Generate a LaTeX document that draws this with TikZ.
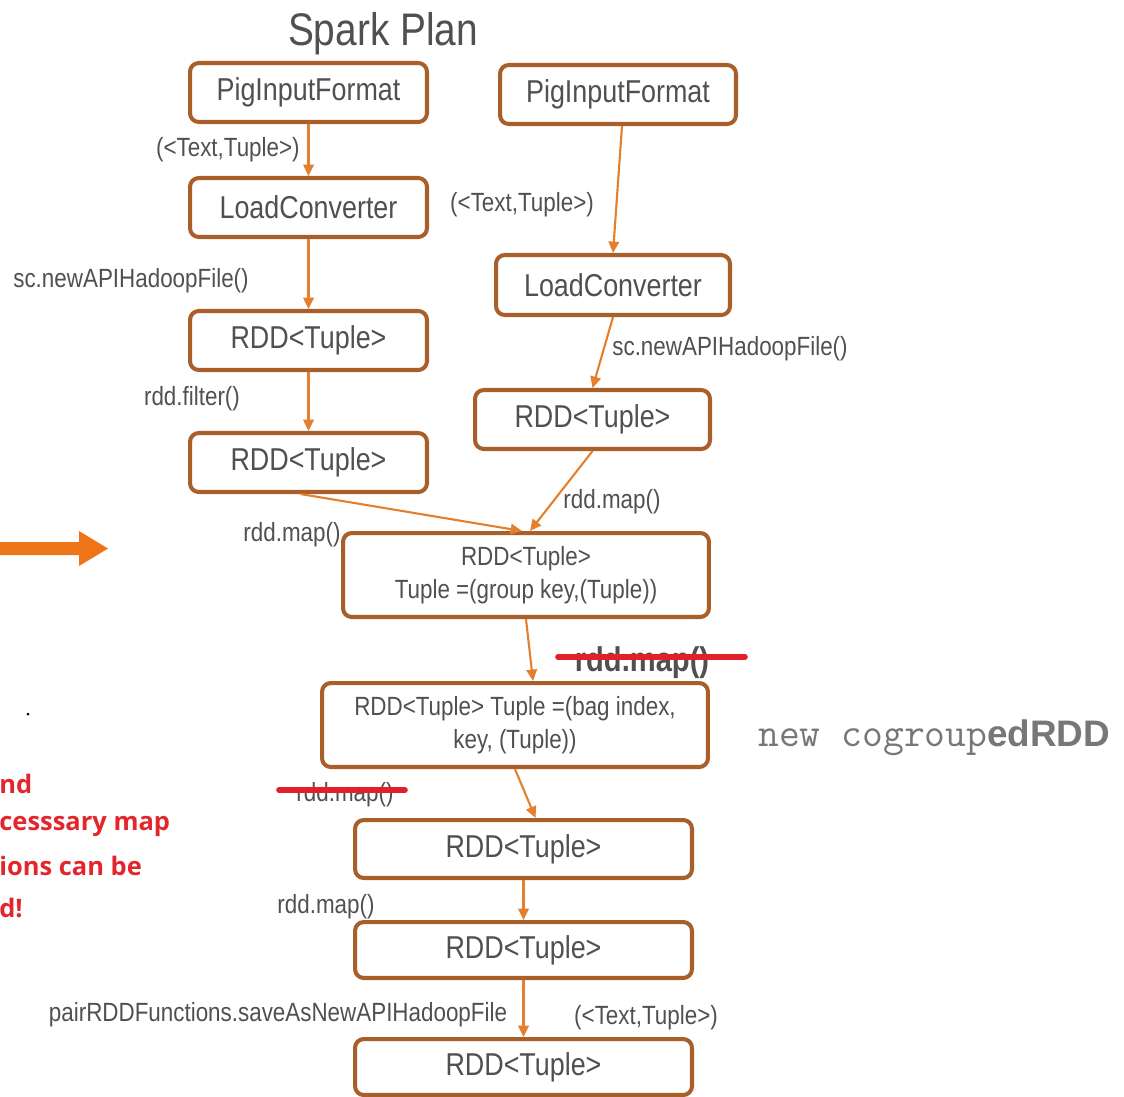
\documentclass[tikz,border=0pt]{standalone}
\usepackage{fontspec}
\setmainfont{Liberation Sans}[FakeStretch=0.85]
\newfontfamily\plainsans{Liberation Sans}
\newfontfamily\codefont{Latin Modern Mono}
\newfontfamily\notefont{Open Sans}
\usetikzlibrary{arrows.meta,calc}
\definecolor{boxc}{HTML}{A95F2A}
\definecolor{arrc}{HTML}{E47F2C}
\definecolor{txt}{HTML}{505050}
\definecolor{codec}{HTML}{777777}
\definecolor{strikec}{HTML}{E2202B}
\definecolor{notec}{HTML}{E3262C}
\definecolor{bigarrow}{HTML}{EE7418}
\begin{document}
\begin{tikzpicture}[x=0.02cm,y=-0.02cm,
  stage/.style={draw=boxc, line width=2.3pt, rounded corners=5pt, fill=white,
    text=txt, font=\fontsize{18}{20}\selectfont, inner sep=0pt},
  widestage/.style={stage, font=\fontsize{15}{19}\selectfont, align=center},
  flow/.style={draw=arrc, line width=1.2pt, -{Triangle[length=6.5pt,width=6pt]}},
  lbl/.style={text=txt, font=\fontsize{15}{18}\selectfont, inner sep=0pt},
  strikeout/.style={draw=strikec, line width=3.2pt, line cap=round},
  note/.style={text=notec, font=\notefont\bfseries\fontsize{14.5}{16}\selectfont,
    inner sep=0pt, anchor=west},
]
\useasboundingbox (0,0) rectangle (1124,1096);

% title
\node[text=txt, font=\fontsize{26}{28}\selectfont, inner sep=0pt] (title) at (383,34) {Spark Plan};

% left load branch
\node[stage, minimum width=4.74cm, minimum height=1.18cm] (pifL) at (308.5,92.5) {PigInputFormat};
\node[stage, minimum width=4.74cm, minimum height=1.18cm] (lcL) at (308.5,207.5) {LoadConverter};
\node[stage, minimum width=4.74cm, minimum height=1.18cm] (rddL1) at (308.5,340.5) {RDD<Tuple>};
\node[stage, minimum width=4.74cm, minimum height=1.18cm] (rddL2) at (308.5,462.5) {RDD<Tuple>};

% right load branch
\node[stage, minimum width=4.72cm, minimum height=1.18cm] (pifR) at (618,94.5) {PigInputFormat};
\node[stage, minimum width=4.68cm, minimum height=1.2cm] (lcR) at (613,285) {LoadConverter};
\node[stage, minimum width=4.7cm, minimum height=1.18cm] (rddR) at (592.5,419.5) {RDD<Tuple>};

% merged part
\node[widestage, minimum width=7.32cm, minimum height=1.68cm] (grp) at (526,575)
  {RDD<Tuple>\\Tuple =(group key,(Tuple))};
\node[widestage, minimum width=7.72cm, minimum height=1.68cm] (bag) at (515,725)
  {RDD<Tuple> Tuple =(bag index,\\key, (Tuple))};
\node[stage, minimum width=6.74cm, minimum height=1.16cm] (rddA) at (523.5,849) {RDD<Tuple>};
\node[stage, minimum width=6.74cm, minimum height=1.12cm] (rddB) at (523.5,950) {RDD<Tuple>};
\node[stage, minimum width=6.74cm, minimum height=1.12cm] (rddC) at (523.5,1067) {RDD<Tuple>};

% connectors
\draw[flow] (pifL) -- (lcL);
\draw[flow] (lcL) -- (rddL1);
\draw[flow] (rddL1) -- (rddL2);
\draw[flow] ($(pifR.south)+(4,0)$) -- (lcR.north);
\draw[flow] (lcR.south) -- (rddR.north);
\draw[flow] ($(rddL2.south)+(-8,0)$) -- ($(grp.north)+(-4,0)$);
\draw[flow] (rddR.south) -- ($(grp.north)+(4,0)$);
\draw[flow] (grp.south) -- ($(bag.north)+(18,0)$);
\draw[flow] (bag.south) -- ($(rddA.north)+(12,0)$);
\draw[flow] (rddA) -- (rddB);
\draw[flow] (rddB) -- (rddC);

% connector labels
\node[lbl, anchor=east] (t1) at (300,150) {(<Text,Tuple>)};
\node[lbl] (t2) at (522,205) {(<Text,Tuple>)};
\node[lbl] (s1) at (131,281) {sc.newAPIHadoopFile()};
\node[lbl, anchor=west] (s2) at (612,349) {sc.newAPIHadoopFile()};
\node[lbl] (f1) at (192,399) {rdd.filter()};
\node[lbl] (m1) at (612,502) {rdd.map()};
\node[lbl] (m2) at (292,535) {rdd.map()};
\node[lbl] (m5) at (326,907) {rdd.map()};
\node[lbl] (sv) at (278,1015) {pairRDDFunctions.saveAsNewAPIHadoopFile};
\node[lbl] (t3) at (646,1018) {(<Text,Tuple>)};

% removed map steps
\node[lbl, font=\bfseries\fontsize{19.5}{21}\selectfont] (m3) at (642,663) {rdd.map()};
\draw[strikeout] (558,657) -- (745,657);
\node[lbl] (m4) at (345,795) {rdd.map()};
\draw[strikeout] (279,790) -- (405,790);

% result name
\node[inner sep=0pt, anchor=west, text=codec] (cg) at (758,738)
  {\codefont\fontsize{23}{24}\selectfont new cogroup\plainsans\bfseries\fontsize{21}{22}\selectfont edRDD};

% big arrow on the left
\fill[bigarrow] (0,542) -- (79,542) -- (79,531) -- (108,548.5) -- (79,566) -- (79,555) -- (0,555) -- cycle;

% note text
\node[note] (n1) at (-1,784) {nd};
\node[note] (n2) at (-1,826) {cesssary map};
\node[note] (n3) at (-1,866) {ions can be};
\node[note] (n4) at (-1,908) {d!};
\fill (28,714) circle (1.5);
\end{tikzpicture}
\end{document}
